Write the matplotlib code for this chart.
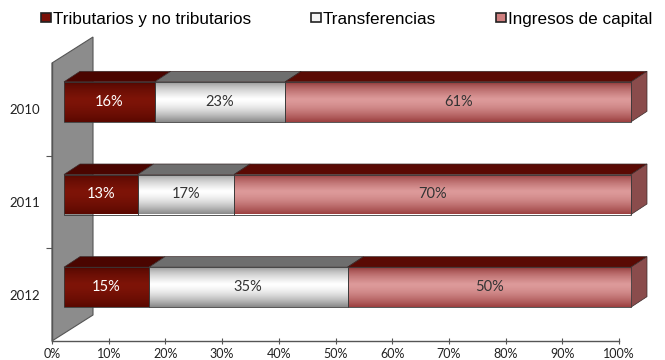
import numpy as np
import matplotlib
matplotlib.use("Agg")
import matplotlib.pyplot as plt
from matplotlib.patches import Polygon, Patch
from matplotlib.colors import to_rgb

# ---- data ----
years = ["2010", "2011", "2012"]
series_names = ["Tributarios y no tributarios", "Transferencias", "Ingresos de capital"]
tributarios = [16, 13, 15]
transferencias = [23, 17, 35]
ingresos_capital = [61, 70, 50]
x_ticks = [0, 10, 20, 30, 40, 50, 60, 70, 80, 90, 100]
x_tick_labels = [f"{t}%" for t in x_ticks]

series = [tributarios, transferencias, ingresos_capital]

# ---- style ----
front_cols = [
    # (edge-top, center, edge-bottom)
    ("#4e0600", "#7e1408", "#5a0800"),
    ("#8e8e8e", "#ffffff", "#8a8a8a"),
    ("#8a2e2e", "#dd9a9a", "#9c4040"),
]
top_cols = ["#4a0500", "#6e6e6e", "#5a0a04"]
end_col = ("#5e2222", "#8a4c4c", "#6a2a2a")
legend_cols = ["#7a1008", "#f4f4f4", "#cf7f7f"]
text_cols = ["white", "#333333", "#333333"]
label_font = ["Lato", "DejaVu Sans"]

W, H = 665, 360
fig = plt.figure(figsize=(W / 100, H / 100), dpi=100)
ax_left, ax_right, ax_top, ax_bot = 52, 619, 63, 341
ax = fig.add_axes([ax_left / W, (H - ax_bot) / H, (ax_right - ax_left) / W, (ax_bot - ax_top) / H])
ax.set_xlim(0, 100)
ax.set_ylim(-0.5, 2.5)

pxx = (ax_right - ax_left) / 100.0   # px per x unit
pxy = (ax_bot - ax_top) / 3.0        # px per y unit

# 3D geometry (in data units)
x_off = 12 / pxx
ddx = 16 / pxx
ddy = 10.5 / pxy
bar_h = 40 / pxy
y_shift = 7.5 / pxy

# side wall
wall_dx = 41 / pxx
wall_dy = 26 / pxy
wall = Polygon([(0, 2.5), (wall_dx, 2.5 + wall_dy), (wall_dx, -0.5 + wall_dy), (0, -0.5)],
               closed=True, facecolor="#8c8c8c", edgecolor="#555555", lw=0.8,
               clip_on=False, zorder=1)
ax.add_patch(wall)


def gradient(c_top, c_mid, c_bot, n=64):
    t = np.linspace(0, 1, n)  # 0 = top, 1 = bottom
    a, b, c = np.array(to_rgb(c_top)), np.array(to_rgb(c_mid)), np.array(to_rgb(c_bot))
    out = np.zeros((n, 1, 3))
    peak = 0.42
    for i, tt in enumerate(t):
        if tt < peak:
            f = (tt / peak) ** 0.6
            out[i, 0] = a * (1 - f) + b * f
        else:
            f = ((tt - peak) / (1 - peak)) ** 1.6
            out[i, 0] = b * (1 - f) + c * f
    return out


def clip_image(im, patch):
    im.set_clip_on(True)
    im.set_clip_box(None)
    im.set_clip_path(patch)


ypos = {"2010": 2, "2011": 1, "2012": 0}
for yi, yr in enumerate(years):
    yc = ypos[yr] + y_shift
    y0, y1 = yc - bar_h / 2, yc + bar_h / 2
    left = x_off
    vals = [s[yi] for s in series]
    for si, v in enumerate(vals):
        x0, x1 = left, left + v
        top = Polygon([(x0, y1), (x1, y1), (x1 + ddx, y1 + ddy), (x0 + ddx, y1 + ddy)],
                      closed=True, facecolor=top_cols[si], edgecolor="#3a2a2a", lw=0.5,
                      clip_on=False, zorder=3)
        ax.add_patch(top)
        bars = ax.barh([ypos[yr] + y_shift], [v], left=[x0], height=bar_h,
                       color="none", edgecolor="#3a3a3a", lw=0.6, clip_on=False, zorder=5)
        rect = bars.patches[0]
        im = ax.imshow(gradient(*front_cols[si]), extent=[x0, x1, y0, y1],
                       aspect="auto", interpolation="bilinear", zorder=4)
        clip_image(im, rect)
        ax.text((x0 + x1) / 2, yc, f"{v}%", ha="center", va="center",
                color=text_cols[si], fontsize=10.5, family=label_font, zorder=6)
        left = x1
    xe = left
    endp = Polygon([(xe, y0), (xe, y1), (xe + ddx, y1 + ddy), (xe + ddx, y0 + ddy)],
                   closed=True, facecolor=end_col[1], edgecolor="#3a2a2a", lw=0.5,
                   clip_on=False, zorder=3.6)
    ax.add_patch(endp)
    im = ax.imshow(gradient(*end_col), extent=[xe, xe + ddx, y0, y1 + ddy],
                   aspect="auto", interpolation="bilinear", zorder=3.5)
    clip_image(im, endp)

ax.set_xlim(0, 100)
ax.set_ylim(-0.5, 2.5)

for s in ["top", "right"]:
    ax.spines[s].set_visible(False)
for s in ["left", "bottom"]:
    ax.spines[s].set_color("#555555")
    ax.spines[s].set_linewidth(1.0)
ax.set_xticks(x_ticks)
ax.set_xticklabels(x_tick_labels, family=label_font, fontsize=9, color="#222222")
ax.set_yticks([0.5, 1.5], minor=False)
ax.set_yticks([0, 1, 2], minor=True)
ax.set_yticklabels([])
ax.set_yticklabels([years[2], years[1], years[0]], minor=True,
                   family=label_font, fontsize=9.5, color="#222222")
ax.tick_params(axis="y", which="major", length=4, color="#555555", direction="out")
ax.tick_params(axis="y", which="minor", length=0, pad=8.5)
ax.tick_params(axis="x", length=4, color="#555555", direction="inout", pad=3)
ax.patch.set_visible(False)

# legend
handles = [Patch(facecolor=c, edgecolor="#222222", lw=1.2) for c in legend_cols]
fig.legend(handles, series_names, loc="upper left", bbox_to_anchor=(41 / W, 1 - 12 / H),
           ncol=3, frameon=False, handlelength=0.58, handleheight=0.44, handletextpad=0.12,
           columnspacing=3.5, borderpad=0, borderaxespad=0,
           prop={"family": ["Liberation Sans", "DejaVu Sans"], "size": 12.3})

fig.savefig("out.png", dpi=100)
